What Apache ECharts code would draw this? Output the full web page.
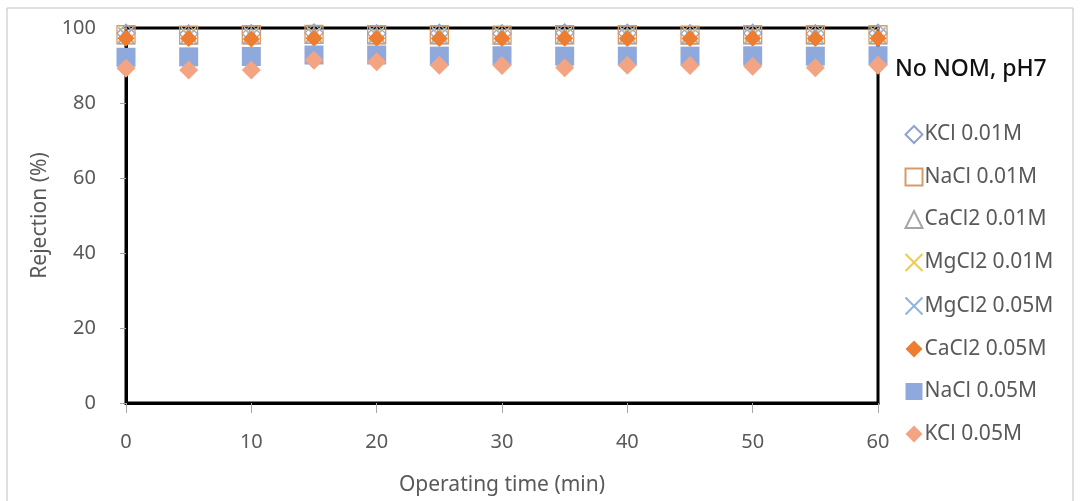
<!DOCTYPE html>
<html>
<head>
<meta charset="utf-8">
<script src="https://cdn.jsdelivr.net/npm/echarts@6/dist/echarts.min.js"></script>
<style>
  html, body { margin: 0; padding: 0; background: #fff; }
  #chart { width: 1081px; height: 501px; }
</style>
</head>
<body>
<div id="chart"></div>
<script>
  // operating time (min)
  var times = [0, 5, 10, 15, 20, 25, 30, 35, 40, 45, 50, 55, 60];
  var kcl001 = [98.6, 98.4, 98.5, 98.7, 98.5, 98.6, 98.5, 98.7, 98.6, 98.5, 98.6, 98.5, 98.6];
  var nacl001 = [98.2, 98.1, 98.2, 98.3, 98.2, 98.2, 98.1, 98.2, 98.2, 98.1, 98.2, 98.2, 98.2];
  var cacl2001 = [98.0, 97.9, 98.0, 98.1, 98.0, 98.0, 97.9, 98.0, 98.0, 98.0, 98.0, 97.9, 98.0];
  var mgcl2001 = [98.3, 98.2, 98.3, 98.4, 98.3, 98.3, 98.2, 98.3, 98.3, 98.3, 98.3, 98.2, 98.3];
  var mgcl2005 = [98.0, 97.9, 97.9, 98.1, 98.0, 97.9, 97.9, 98.0, 97.9, 97.9, 98.0, 97.9, 98.0];
  var cacl2005 = [97.3, 97.2, 97.1, 97.3, 97.3, 97.2, 97.2, 97.3, 97.2, 97.2, 97.3, 97.2, 97.3];
  var nacl005 = [92.2, 92.3, 92.4, 92.8, 92.8, 92.5, 92.6, 92.5, 92.5, 92.5, 92.6, 92.5, 92.6];
  var kcl005 = [89.3, 88.8, 88.8, 91.4, 91.0, 90.1, 90.0, 89.4, 90.1, 90.0, 89.8, 89.4, 90.1];

  var yTicks = [0, 20, 40, 60, 80, 100];
  var xTicks = [0, 10, 20, 30, 40, 50, 60];

  var cross = 'path://M0,0L10,10M10,0L0,10';

  function pairs(vals) {
    return times.map(function (t, i) { return [t, vals[i]]; });
  }

  function mk(name, vals, symbol, size, fill, stroke, bw) {
    return {
      name: name,
      type: 'scatter',
      data: pairs(vals),
      symbol: symbol,
      symbolSize: size,
      itemStyle: { color: fill, borderColor: stroke, borderWidth: bw, opacity: 1 },
      emphasis: { disabled: true }
    };
  }

  var txt = '#595959';
  var font = "'Noto Sans', 'Open Sans', sans-serif";

  var chart = echarts.init(document.getElementById('chart'));
  var option = {
    animation: false,
    textStyle: { fontFamily: font },
    graphic: [{
      type: 'rect',
      shape: { x: 7, y: 8, width: 1066, height: 500 },
      style: { fill: 'none', stroke: '#bfbfbf', lineWidth: 1 },
      silent: true
    }],
    title: {
      text: 'No NOM, pH7',
      left: 890,
      top: 53,
      textStyle: { fontSize: 23, fontWeight: 500, color: '#111', fontFamily: font }
    },
    legend: {
      orient: 'vertical',
      left: 898,
      top: 119,
      itemWidth: 17,
      itemHeight: 17,
      itemGap: 21.5,
      textStyle: { fontSize: 21, color: txt, fontFamily: font, padding: [0, 0, 0, -3] },
      data: ['KCl 0.01M', 'NaCl 0.01M', 'CaCl2 0.01M', 'MgCl2 0.01M', 'MgCl2 0.05M', 'CaCl2 0.05M', 'NaCl 0.05M', 'KCl 0.05M']
    },
    grid: {
      left: 126, right: 203, top: 28, bottom: 98,
      show: true, borderColor: '#000', borderWidth: 3, backgroundColor: '#fff'
    },
    xAxis: {
      type: 'value',
      min: 0, max: 60, interval: 10,
      name: 'Operating time (min)',
      nameLocation: 'middle',
      nameGap: 72,
      nameTextStyle: { fontSize: 21, color: txt },
      axisLine: { lineStyle: { color: '#000', width: 3 } },
      axisTick: { show: true, length: 10, lineStyle: { color: '#a6a6a6' } },
      axisLabel: {
        fontSize: 20, color: txt, margin: 29,
        formatter: function (v) { return xTicks.indexOf(v) >= 0 ? String(v) : ''; }
      },
      splitLine: { show: false }
    },
    yAxis: {
      type: 'value',
      min: 0, max: 100, interval: 20,
      name: 'Rejection (%)',
      nameLocation: 'middle',
      nameGap: 73,
      nameTextStyle: { fontSize: 21, color: txt },
      axisLine: { lineStyle: { color: '#000', width: 3 } },
      axisTick: { show: true, length: 6, lineStyle: { color: '#a6a6a6' } },
      axisLabel: {
        fontSize: 20, color: txt, margin: 30,
        formatter: function (v) { return yTicks.indexOf(v) >= 0 ? String(v) : ''; }
      },
      splitLine: { show: false }
    },
    series: [
      mk('KCl 0.01M', kcl001, 'diamond', 18, 'rgba(255,255,255,0)', '#8ea3cf', 1.3),
      mk('NaCl 0.01M', nacl001, 'rect', 18, 'rgba(255,255,255,0)', '#d99a66', 1.3),
      mk('CaCl2 0.01M', cacl2001, 'triangle', 16, 'rgba(255,255,255,0)', '#a5a5a5', 1.3),
      mk('MgCl2 0.01M', mgcl2001, cross, 15, 'none', '#f2c94c', 1.3),
      mk('MgCl2 0.05M', mgcl2005, cross, 15, 'none', '#8fb4de', 1.3),
      mk('CaCl2 0.05M', cacl2005, 'diamond', 17, '#ed7d31', '#ed7d31', 0),
      mk('NaCl 0.05M', nacl005, 'rect', 19, '#8fa9dc', '#8fa9dc', 0),
      mk('KCl 0.05M', kcl005, 'diamond', 19, '#f2a483', '#f2a483', 0)
    ]
  };
  chart.setOption(option, true);
</script>
</body>
</html>
